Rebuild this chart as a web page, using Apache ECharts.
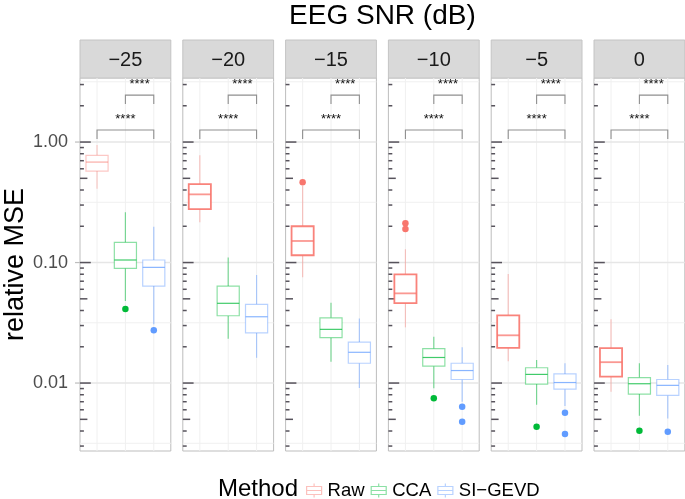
<!DOCTYPE html>
<html><head><meta charset="utf-8">
<script src="https://cdn.jsdelivr.net/npm/echarts@6/dist/echarts.min.js"></script>
<style>html,body{margin:0;padding:0;background:#fff}#c{width:685px;height:499px}</style>
</head><body><div id="c"></div>
<script>
// ---------------- data ----------------
const facetLabels = ['−25', '−20', '−15', '−10', '−5', '0'];
const methods = ['Raw', 'CCA', 'SI−GEVD'];
// [lower whisker, Q1, median, Q3, upper whisker] per facet
const rawStats = [
  [0.41, 0.574, 0.682, 0.776, 0.944],
  [0.216, 0.278, 0.368, 0.448, 0.776],
  [0.0754, 0.115, 0.151, 0.200, 0.432],
  [0.029, 0.0461, 0.0555, 0.0798, 0.129],
  [0.0152, 0.0196, 0.0249, 0.0365, 0.0803],
  [0.00847, 0.0113, 0.0149, 0.0195, 0.0338]
];
const ccaStats = [
  [0.048, 0.0895, 0.105, 0.147, 0.261],
  [0.0233, 0.0362, 0.0459, 0.0638, 0.110],
  [0.015, 0.0238, 0.0279, 0.0348, 0.0464],
  [0.00904, 0.0138, 0.0163, 0.0193, 0.0242],
  [0.0066, 0.0098, 0.0118, 0.0134, 0.0155],
  [0.00535, 0.0081, 0.00987, 0.0111, 0.0146]
];
const gevdStats = [
  [0.0307, 0.0638, 0.0912, 0.105, 0.198],
  [0.0162, 0.0261, 0.0355, 0.045, 0.0788],
  [0.0091, 0.0146, 0.018, 0.0219, 0.0344],
  [0.007, 0.0107, 0.0127, 0.0146, 0.0198],
  [0.00644, 0.0089, 0.0101, 0.0119, 0.0146],
  [0.00509, 0.0079, 0.00957, 0.0107, 0.0141]
];
const rawOutliers = [[], [], [0.463], [0.212, 0.19], [], []];
const ccaOutliers = [[0.0411], [], [], [0.00747], [0.00434], [0.00402]];
const gevdOutliers = [[0.0274], [], [], [0.00636, 0.00477], [0.00568, 0.00378], [0.00394]];
// significance brackets (method positions 1..3)
const sigPairs = [[1, 3], [2, 3]];
const sigBarY = [1.26, 2.45];
const sigLegY = [1.06, 2.07];
const sigLabelY = [1.55, 3.03];
const sigLabels = ['****', '****'];
const yMajorTicks = [0.01, 0.1, 1];
const yMajorLabels = ['0.01', '0.10', '1.00'];

// ---------------- layout / style ----------------
const FONT = '"Liberation Sans", Arial, sans-serif';
const statsByMethod = [rawStats, ccaStats, gevdStats];
const outliersByMethod = [rawOutliers, ccaOutliers, gevdOutliers];
const solid = ['#F8766D', '#00BA38', '#619CFF'];
const rgb = ['248,118,109', '0,186,56', '97,156,255'];
const Y_MIN = 0.00273, Y_MAX = 3.4;
const P_LEFT = 80, P_W = 90.8, P_STEP = 102.8, P_TOP = 78, P_H = 373, STRIP_TOP = 40;

function styleFor(mi, pi) {
  if (mi === 0) {
    if (pi === 0) return {box: 'rgba(' + rgb[0] + ',0.4)', med: 'rgba(' + rgb[0] + ',0.6)', wh: 'rgba(' + rgb[0] + ',0.35)', lw: 1.2};
    return {box: 'rgba(' + rgb[0] + ',0.9)', med: 'rgba(' + rgb[0] + ',0.75)', wh: 'rgba(' + rgb[0] + ',0.4)', lw: 1.8};
  }
  return {box: 'rgba(' + rgb[mi] + ',0.45)', med: 'rgba(' + rgb[mi] + ',0.75)', wh: 'rgba(' + rgb[mi] + ',0.5)', lw: 1.2};
}

const chart = echarts.init(document.getElementById('c'), null, {renderer: 'canvas'});

const grids = [], xAxes = [], yAxes = [], series = [], graphics = [];

facetLabels.forEach(function (lab, pi) {
  const left = P_LEFT + pi * P_STEP;
  grids.push({left: left, top: P_TOP, width: P_W, height: P_H, show: true,
    borderColor: '#BDBDBD', borderWidth: 1, backgroundColor: '#fff', containLabel: false, outerBoundsMode: 'none'});
  xAxes.push({type: 'value', gridIndex: pi, min: 0.4, max: 3.6, show: false});
  yAxes.push({
    type: 'log', logBase: 10, gridIndex: pi, min: Y_MIN, max: Y_MAX,
    axisLine: {show: false}, axisTick: {show: false}, splitLine: {show: false},
    minorTick: {show: false}, minorSplitLine: {show: false},
    axisLabel: pi === 0 ? {
      show: true, color: '#4D4D4D', fontSize: 18, fontFamily: FONT, margin: 12,
      formatter: function (v) {
        for (let k = 0; k < yMajorTicks.length; k++) {
          if (Math.abs(Math.log10(v) - Math.log10(yMajorTicks[k])) < 1e-6) return yMajorLabels[k];
        }
        return '';
      }
    } : {show: false},
    name: pi === 0 ? 'relative MSE' : '',
    nameLocation: 'middle', nameGap: 50, nameRotate: 90,
    nameTextStyle: {fontSize: 27, color: '#000', fontFamily: FONT}
  });

  // strip
  graphics.push({type: 'rect', shape: {x: left, y: STRIP_TOP, width: P_W, height: P_TOP - STRIP_TOP},
    style: {fill: '#D9D9D9', stroke: '#C4C4C4', lineWidth: 1}, silent: true});
  graphics.push({type: 'text', x: left + P_W / 2, y: (STRIP_TOP + P_TOP) / 2 + 1,
    style: {text: lab, fontSize: 20, fontFamily: FONT, fill: '#1A1A1A', align: 'center', verticalAlign: 'middle'}, silent: true});

  // background decoration: grid lines and log ticks
  series.push({
    type: 'custom', xAxisIndex: pi, yAxisIndex: pi, silent: true, z: 1,
    data: [[1, 1]], encode: {x: 0, y: 1},
    renderItem: function (params, api) {
      const ch = [];
      const x0 = api.coord([0.4, 1])[0], x1 = api.coord([3.6, 1])[0];
      const yTop = api.coord([1, Y_MAX])[1], yBot = api.coord([1, Y_MIN])[1];
      for (let e = -3; e <= 0; e++) {
        const v = Math.pow(10, e + 0.5);
        if (v > Y_MIN && v < Y_MAX) {
          const y = api.coord([1, v])[1];
          ch.push({type: 'line', shape: {x1: x0, y1: y, x2: x1, y2: y}, style: {stroke: '#F0F0F0', lineWidth: 1}});
        }
      }
      [1, 2, 3].forEach(function (xv) {
        const x = api.coord([xv, 1])[0];
        ch.push({type: 'line', shape: {x1: x, y1: yTop, x2: x, y2: yBot}, style: {stroke: '#F0F0F0', lineWidth: 1}});
      });
      yMajorTicks.forEach(function (v) {
        const y = api.coord([1, v])[1];
        ch.push({type: 'line', shape: {x1: x0, y1: y, x2: x1, y2: y}, style: {stroke: '#E6E6E6', lineWidth: 1.4}});
        if (pi === 0) ch.push({type: 'line', shape: {x1: x0 - 5, y1: y, x2: x0, y2: y}, style: {stroke: '#BDBDBD', lineWidth: 1.2}});
      });
      for (let e = -3; e <= 0; e++) {
        for (let k = 1; k <= 9; k++) {
          const v = k * Math.pow(10, e);
          if (v < Y_MIN || v > Y_MAX) continue;
          const y = api.coord([1, v])[1];
          const len = k === 1 ? 10.8 : (k === 5 ? 7.4 : 3.9);
          ch.push({type: 'line', shape: {x1: x0, y1: y, x2: x0 + len, y2: y}, style: {stroke: '#57535C', lineWidth: 1.5}});
        }
      }
      return {type: 'group', children: ch};
    }
  });

  // boxes and outliers
  methods.forEach(function (m, mi) {
    const s = statsByMethod[mi][pi];
    const st = styleFor(mi, pi);
    series.push({
      type: 'custom', name: m, xAxisIndex: pi, yAxisIndex: pi, z: 3,
      data: [[mi + 1].concat(s)], encode: {x: 0, y: [1, 2, 3, 4, 5]},
      renderItem: function (params, api) {
        const x = api.value(0);
        const md = api.value(3);
        const L = api.coord([x - 0.39, md])[0], R = api.coord([x + 0.39, md])[0], C = api.coord([x, md])[0];
        const yLo = api.coord([x, api.value(1)])[1], yQ1 = api.coord([x, api.value(2)])[1];
        const yMd = api.coord([x, md])[1], yQ3 = api.coord([x, api.value(4)])[1], yHi = api.coord([x, api.value(5)])[1];
        return {type: 'group', children: [
          {type: 'line', shape: {x1: C, y1: yQ3, x2: C, y2: yHi}, style: {stroke: st.wh, lineWidth: 1.2}},
          {type: 'line', shape: {x1: C, y1: yQ1, x2: C, y2: yLo}, style: {stroke: st.wh, lineWidth: 1.2}},
          {type: 'rect', shape: {x: L, y: yQ3, width: R - L, height: yQ1 - yQ3}, style: {fill: '#fff', stroke: st.box, lineWidth: st.lw}},
          {type: 'line', shape: {x1: L, y1: yMd, x2: R, y2: yMd}, style: {stroke: st.med, lineWidth: st.lw}}
        ]};
      }
    });
    const outs = outliersByMethod[mi][pi];
    if (outs.length) {
      series.push({
        type: 'scatter', name: m, xAxisIndex: pi, yAxisIndex: pi, z: 4,
        symbol: 'circle', symbolSize: 6.5,
        itemStyle: {color: solid[mi], opacity: 1},
        data: outs.map(function (v) { return [mi + 1, v]; })
      });
    }
  });

  // significance brackets
  series.push({
    type: 'custom', xAxisIndex: pi, yAxisIndex: pi, silent: true, z: 5,
    data: sigPairs.map(function (p, j) { return [p[0], p[1], sigBarY[j], sigLegY[j], sigLabelY[j], j]; }),
    encode: {x: [0, 1], y: [2, 3, 4]},
    renderItem: function (params, api) {
      const a = api.value(0), b = api.value(1), yb = api.value(2), yl = api.value(3), yt = api.value(4);
      const j = api.value(5);
      const p1 = api.coord([a, yl]), p2 = api.coord([a, yb]), p3 = api.coord([b, yb]), p4 = api.coord([b, yl]);
      const t = api.coord([(a + b) / 2, yt]);
      return {type: 'group', children: [
        {type: 'polyline', shape: {points: [p1, p2, p3, p4]}, style: {stroke: '#8F8F8F', lineWidth: 1.1, fill: null}},
        {type: 'text', x: t[0], y: t[1], style: {text: sigLabels[j], fontSize: 13, fontFamily: FONT, fill: '#111', align: 'center', verticalAlign: 'middle'}}
      ]};
    }
  });
});

// titles
graphics.push({type: 'text', x: (P_LEFT + P_LEFT + 5 * P_STEP + P_W) / 2, y: 16,
  style: {text: 'EEG SNR (dB)', fontSize: 28, fontFamily: FONT, fill: '#000', align: 'center', verticalAlign: 'middle'}, silent: true});
graphics.push({type: 'text', x: 218, y: 489,
  style: {text: 'Method', fontSize: 24, fontFamily: FONT, fill: '#000', align: 'left', verticalAlign: 'middle'}, silent: true});

const keyIcon = 'path://M8.5,0 L8.5,3 M1,3 L16,3 L16,11 L1,11 Z M1,7 L16,7 M8.5,11 L8.5,14';

chart.setOption({
  animation: false,
  backgroundColor: '#fff',
  grid: grids,
  xAxis: xAxes,
  yAxis: yAxes,
  graphic: graphics,
  legend: {
    left: 306, top: 481, itemWidth: 17, itemHeight: 14, itemGap: 6, padding: 0,
    textStyle: {fontSize: 18.5, color: '#000', fontFamily: FONT},
    data: methods.map(function (m, mi) {
      return {name: m, icon: keyIcon,
        itemStyle: {color: 'rgba(255,255,255,0)', borderColor: 'rgba(' + rgb[mi] + ',0.45)', borderWidth: 1.2}};
    })
  },
  series: series
});
</script></body></html>
